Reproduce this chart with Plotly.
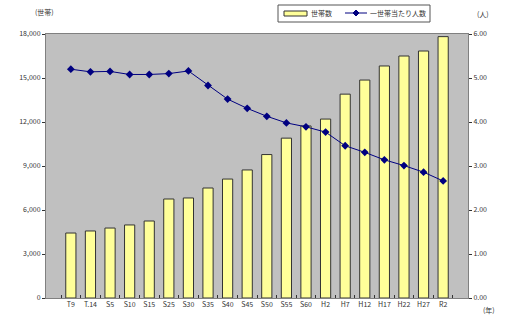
import plotly.graph_objects as go

categories = ["T9", "T.14", "S5", "S10", "S15", "S25", "S30", "S35", "S40", "S45", "S50",
              "S55", "S60", "H2", "H7", "H12", "H17", "H22", "H27", "R2"]
households = [4430, 4570, 4770, 4980, 5250, 6750, 6820, 7500, 8110, 8730, 9780,
              10900, 11730, 12200, 13900, 14860, 15820, 16500, 16840, 17820]
persons = [5.20, 5.14, 5.15, 5.08, 5.08, 5.10, 5.16, 4.83, 4.52, 4.31, 4.13,
           3.98, 3.89, 3.77, 3.46, 3.31, 3.14, 3.01, 2.86, 2.66]
left_ticks = [0, 3000, 6000, 9000, 12000, 15000, 18000]
left_labels = ["0", "3,000", "6,000", "9,000", "12,000", "15,000", "18,000"]
right_ticks = [0, 1, 2, 3, 4, 5, 6]
right_labels = ["0.00", "1.00", "2.00", "3.00", "4.00", "5.00", "6.00"]
series_names = ["世帯数", "一世帯当たり人数"]

W, H = 511, 334
L, R, T, B = 46, 43, 34, 36
PW, PH = W - L - R, H - T - B


def px(x):
    return (x - L) / PW


def py(y):
    return (H - B - y) / PH


font = dict(family="Noto Sans CJK JP", size=7, color="#333333")
BAR_COLOR = "#FFFF99"
LINE_COLOR = "#000080"

fig = go.Figure()
fig.add_trace(go.Bar(
    x=categories, y=households, name=series_names[0],
    marker=dict(color=BAR_COLOR, line=dict(color="#333333", width=1)),
))
fig.add_trace(go.Scatter(
    x=categories, y=persons, name=series_names[1], yaxis="y2",
    mode="lines+markers",
    line=dict(color=LINE_COLOR, width=1),
    marker=dict(symbol="diamond", size=6, color=LINE_COLOR),
))

# manual legend (kept outside the plot area without pushing margins)
dx, dy = 3 / PW, 3 / PH
cx, cy = px(356), py(13)
shapes = [
    dict(type="rect", xref="paper", yref="paper", x0=px(278), x1=px(430),
         y0=py(22), y1=py(5), line=dict(color="#555555", width=1), fillcolor="white"),
    dict(type="rect", xref="paper", yref="paper", x0=px(284), x1=px(307),
         y0=py(16), y1=py(11), line=dict(color="#333333", width=1), fillcolor=BAR_COLOR),
    dict(type="line", xref="paper", yref="paper", x0=px(345), x1=px(367),
         y0=cy, y1=cy, line=dict(color=LINE_COLOR, width=1)),
    dict(type="path", xref="paper", yref="paper",
         path=f"M {cx - dx} {cy} L {cx} {cy + dy} L {cx + dx} {cy} L {cx} {cy - dy} Z",
         line=dict(color=LINE_COLOR, width=1), fillcolor=LINE_COLOR),
]

fig.update_layout(
    width=W, height=H,
    margin=dict(l=L, r=R, t=T, b=B),
    paper_bgcolor="white", plot_bgcolor="#C0C0C0",
    font=font,
    bargap=0.48,
    showlegend=False,
    shapes=shapes,
    xaxis=dict(
        type="category", tickson="boundaries", ticks="inside", ticklen=3,
        tickcolor="#333333", showline=True, linecolor="#808080", mirror=True,
        showgrid=False, tickfont=font, tickangle=0, automargin=False,
    ),
    yaxis=dict(
        range=[0, 18000], tickvals=left_ticks, ticktext=left_labels,
        ticks="outside", ticklen=3, tickcolor="#333333",
        showline=True, linecolor="#808080", mirror=True, showgrid=False,
        zeroline=False, tickfont=font, automargin=False,
    ),
    yaxis2=dict(
        range=[0, 6], tickvals=right_ticks, ticktext=right_labels,
        overlaying="y", side="right", ticks="outside", ticklen=3,
        tickcolor="#333333", showgrid=False, zeroline=False, tickfont=font,
        automargin=False,
    ),
    annotations=[
        dict(text=series_names[0], xref="paper", yref="paper", x=px(309), y=py(13),
             xanchor="left", yanchor="middle", showarrow=False, font=font),
        dict(text=series_names[1], xref="paper", yref="paper", x=px(368), y=py(13),
             xanchor="left", yanchor="middle", showarrow=False, font=font),
        dict(text="(世帯)", xref="paper", yref="paper", x=px(44), y=py(12),
             xanchor="center", yanchor="middle", showarrow=False, font=font),
        dict(text="(人)", xref="paper", yref="paper", x=px(483), y=py(14),
             xanchor="center", yanchor="middle", showarrow=False, font=font),
        dict(text="(年)", xref="paper", yref="paper", x=px(489), y=py(310),
             xanchor="center", yanchor="middle", showarrow=False, font=font),
    ],
)

fig.write_html("out.html")
